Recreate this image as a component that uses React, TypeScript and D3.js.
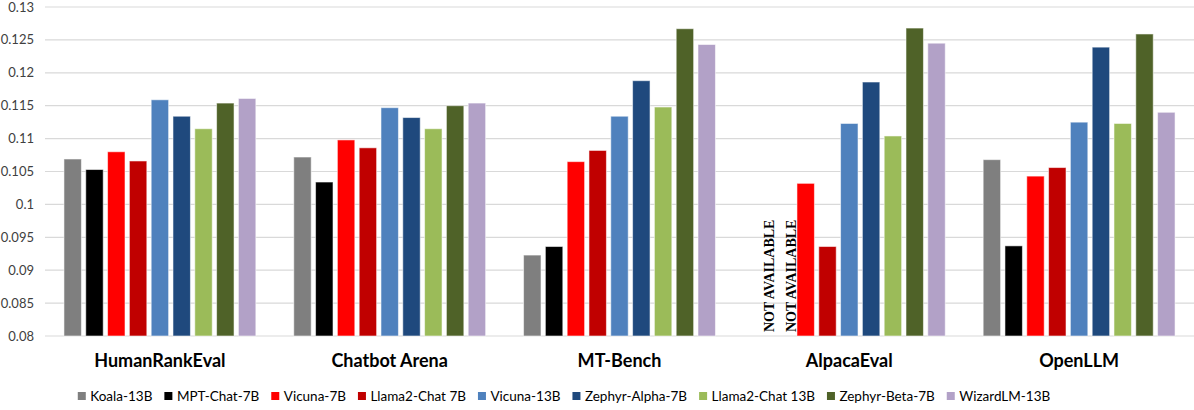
import React, { useMemo } from "react";
import * as d3 from "d3";

const categories = ["HumanRankEval", "Chatbot Arena", "MT-Bench", "AlpacaEval", "OpenLLM"];
const models = [
  "Koala-13B",
  "MPT-Chat-7B",
  "Vicuna-7B",
  "Llama2-Chat 7B",
  "Vicuna-13B",
  "Zephyr-Alpha-7B",
  "Llama2-Chat 13B",
  "Zephyr-Beta-7B",
  "WizardLM-13B",
];
const modelColors = [
  "#7f7f7f",
  "#000000",
  "#ff0000",
  "#c00000",
  "#4f81bd",
  "#1f497d",
  "#9bbb59",
  "#4f6228",
  "#b2a1c7",
];

// one array per model, in category order (null = not available)
const koala = [0.1069, 0.1072, 0.0923, null, 0.1068];
const mptChat = [0.1053, 0.1034, 0.0936, null, 0.0937];
const vicuna7 = [0.108, 0.1098, 0.1065, 0.1032, 0.1043];
const llama7 = [0.1066, 0.1086, 0.1082, 0.0936, 0.1056];
const vicuna13 = [0.1159, 0.1147, 0.1134, 0.1123, 0.1125];
const zephyrAlpha = [0.1134, 0.1132, 0.1188, 0.1186, 0.1239];
const llama13 = [0.1115, 0.1115, 0.1148, 0.1104, 0.1123];
const zephyrBeta = [0.1154, 0.115, 0.1267, 0.1268, 0.1259];
const wizard = [0.1161, 0.1154, 0.1243, 0.1245, 0.114];

const series = [koala, mptChat, vicuna7, llama7, vicuna13, zephyrAlpha, llama13, zephyrBeta, wizard];

const yDomain: [number, number] = [0.08, 0.13];
const missingLabel = "NOT AVAILABLE";

const width = 1194;
const height = 410;
const margin = { top: 7, right: 0, bottom: 74, left: 45 };
const sans = "Lato, 'Open Sans', sans-serif";

const App = () => {
  const x0 = d3
    .scaleBand()
    .domain(categories)
    .range([margin.left, width - margin.right])
    .paddingInner(0.165)
    .paddingOuter(0.0825);

  const x1 = d3
    .scaleBand()
    .domain(models)
    .range([0, x0.bandwidth()])
    .paddingInner(0.2);

  const y = d3
    .scaleLinear()
    .domain(yDomain)
    .range([height - margin.bottom, margin.top]);

  const ticks = y.ticks(10);
  const fmt = d3.format(".3~f");

  // legend layout from measured text widths
  const legend = useMemo(() => {
    const ctx = document.createElement("canvas").getContext("2d") as CanvasRenderingContext2D;
    ctx.font = `13.5px Lato`;
    const items = models.map((m) => ({ name: m, w: ctx.measureText(m).width }));
    const sq = 8;
    const gapText = 4.5;
    const gapItem = 12;
    const total = d3.sum(items, (d) => sq + gapText + d.w) + gapItem * (items.length - 1);
    let cx = 564 - total / 2;
    return items.map((d, i) => {
      const pos = { ...d, x: cx, color: modelColors[i] };
      cx += sq + gapText + d.w + gapItem;
      return pos;
    });
  }, []);

  return (
    <svg
      width={width}
      height={height}
      style={{ position: "absolute", left: 0, top: 0, background: "#fff" }}
    >
      <g>
        {ticks.map((t) => (
          <g key={t}>
            <line
              x1={margin.left}
              x2={width - margin.right}
              y1={y(t)}
              y2={y(t)}
              stroke="#d9d9d9"
              strokeWidth={1.2}
            />
            <text
              x={34}
              y={y(t)}
              dy="0.35em"
              textAnchor="end"
              fontFamily={sans}
              fontSize={13}
              fill="#404040"
            >
              {fmt(t)}
            </text>
          </g>
        ))}
      </g>

      {categories.map((c, ci) => (
        <g key={c} transform={`translate(${x0(c)},0)`}>
          {series.map((vals, si) => {
            const v = vals[ci];
            const bx = x1(models[si]) as number;
            if (v == null) {
              return (
                <text
                  key={si}
                  transform={`translate(${bx + x1.bandwidth() + 3},${y(yDomain[0]) - 4}) rotate(-90)`}
                  fontFamily="'Liberation Serif', 'Times New Roman', serif"
                  fontWeight="bold"
                  fontSize={14}
                  fill="#000"
                >
                  {missingLabel}
                </text>
              );
            }
            return (
              <rect
                key={si}
                x={bx}
                y={y(v)}
                width={x1.bandwidth()}
                height={y(yDomain[0]) - y(v)}
                fill={modelColors[si]}
                stroke="#fff"
                strokeOpacity={0.55}
                strokeWidth={1}
              />
            );
          })}
          <text
            x={x0.bandwidth() / 2}
            y={367}
            textAnchor="middle"
            fontFamily={sans}
            fontWeight="bold"
            fontSize={18}
            fill="#000"
          >
            {c}
          </text>
        </g>
      ))}

      <g>
        {legend.map((d) => (
          <g key={d.name}>
            <rect x={d.x} y={392} width={8} height={8} fill={d.color} />
            <text
              x={d.x + 12.5}
              y={396}
              dy="0.35em"
              fontFamily={sans}
              fontSize={13.5}
              fill="#000"
            >
              {d.name}
            </text>
          </g>
        ))}
      </g>
    </svg>
  );
};

export default App;
